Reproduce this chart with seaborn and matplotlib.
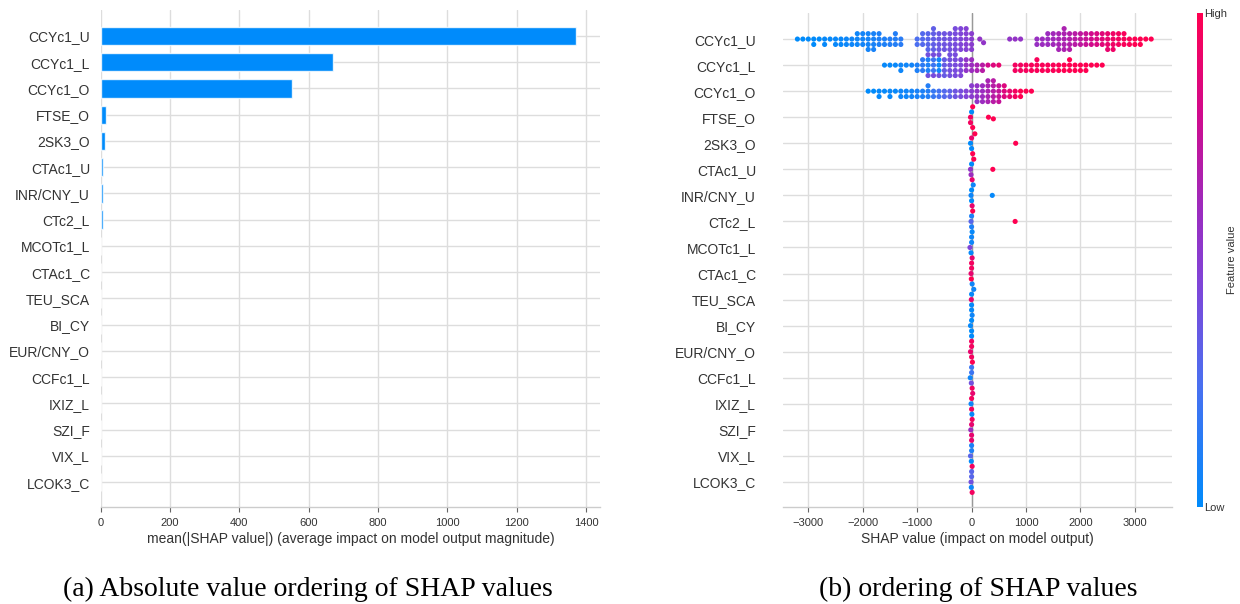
import numpy as np
import pandas as pd
import matplotlib
matplotlib.use("Agg")
import matplotlib.pyplot as plt
import seaborn as sns
from matplotlib.colors import LinearSegmentedColormap, Normalize
from matplotlib.cm import ScalarMappable

sns.set_theme(style="whitegrid")
plt.rcParams["font.family"] = ["Liberation Sans", "DejaVu Sans"]

# ---------------- data ----------------
features = ["CCYc1_U", "CCYc1_L", "CCYc1_O", "FTSE_O", "2SK3_O", "CTAc1_U",
            "INR/CNY_U", "CTc2_L", "MCOTc1_L", "CTAc1_C", "TEU_SCA", "BI_CY",
            "EUR/CNY_O", "CCFc1_L", "IXIZ_L", "SZI_F", "VIX_L", "LCOK3_C"]
mean_abs_shap = [1370, 671, 551, 16, 12, 7, 7, 6, 1.5, 1.2, 1.0, 0.9,
                 0.8, 0.7, 0.6, 0.5, 0.4, 0.3]
bar_ticks = [0, 200, 400, 600, 800, 1000, 1200, 1400]
swarm_ticks = [-3000, -2000, -1000, 0, 1000, 2000, 3000]

# beeswarm groups: (SHAP value, number of dots, feature value 0..1)
ccyc1_u = [(-3200, 1, 0.0), (-3100, 1, 0.0), (-3000, 1, 0.0), (-2900, 2, 0.0), (-2800, 1, 0.0),
           (-2700, 2, 0.02), (-2600, 1, 0.02),
           (-2500, 2, 0.03), (-2400, 2, 0.03), (-2300, 2, 0.04), (-2200, 2, 0.05), (-2100, 3, 0.05),
           (-2000, 3, 0.06), (-1900, 4, 0.07), (-1800, 4, 0.08), (-1700, 3, 0.1), (-1600, 2, 0.1),
           (-1500, 2, 0.12), (-1400, 3, 0.12), (-1300, 2, 0.14),
           (-1000, 2, 0.25), (-900, 3, 0.28), (-800, 4, 0.3), (-700, 5, 0.33), (-600, 4, 0.36),
           (-500, 4, 0.38), (-400, 4, 0.4), (-300, 5, 0.42), (-200, 5, 0.45), (-100, 5, 0.48),
           (0, 4, 0.5), (150, 1, 0.55), (220, 1, 0.55),
           (700, 1, 0.55), (800, 1, 0.56), (900, 1, 0.56),
           (1200, 2, 0.58), (1300, 2, 0.6), (1400, 3, 0.6), (1500, 3, 0.62), (1600, 4, 0.64),
           (1700, 5, 0.66), (1800, 4, 0.68), (1900, 3, 0.7), (2000, 3, 0.73), (2100, 3, 0.76),
           (2200, 3, 0.8), (2300, 3, 0.83), (2400, 3, 0.86), (2500, 4, 0.9), (2600, 4, 0.93),
           (2700, 3, 0.95), (2800, 3, 0.97), (2900, 2, 0.98), (3000, 2, 1.0), (3100, 2, 1.0),
           (3200, 1, 1.0), (3300, 1, 1.0)]
ccyc1_l = [(-1600, 1, 0.02), (-1500, 1, 0.02), (-1400, 1, 0.03), (-1300, 2, 0.05), (-1200, 1, 0.05),
           (-1100, 1, 0.06), (-1000, 2, 0.1), (-900, 3, 0.15), (-800, 3, 0.1), (-800, 2, 0.4),
           (-700, 3, 0.2), (-700, 2, 0.42), (-600, 3, 0.05), (-600, 2, 0.4), (-500, 4, 0.35),
           (-400, 5, 0.4), (-300, 5, 0.42), (-200, 4, 0.45), (-100, 3, 0.55), (0, 3, 0.6),
           (100, 2, 0.65), (200, 2, 0.7), (300, 1, 0.8), (400, 1, 0.85), (500, 1, 0.9),
           (800, 2, 0.95), (900, 2, 0.95), (1000, 2, 0.96), (1100, 2, 0.97), (1200, 3, 0.97),
           (1300, 2, 0.98), (1400, 2, 0.98), (1500, 2, 0.98), (1600, 2, 0.99), (1700, 2, 1.0),
           (1800, 3, 1.0), (1900, 2, 1.0), (2000, 2, 1.0), (2100, 2, 1.0), (2200, 1, 1.0),
           (2300, 1, 1.0), (2400, 1, 1.0)]
ccyc1_o = [(-1900, 1, 0.0), (-1800, 1, 0.0), (-1700, 2, 0.02), (-1600, 1, 0.02), (-1500, 2, 0.03),
           (-1400, 1, 0.03), (-1300, 2, 0.05), (-1200, 2, 0.05), (-1100, 2, 0.06), (-1000, 2, 0.08),
           (-900, 2, 0.1), (-800, 3, 0.12), (-700, 2, 0.18), (-600, 2, 0.22), (-500, 2, 0.28),
           (-400, 2, 0.32), (-300, 2, 0.38), (-200, 2, 0.42), (-100, 2, 0.46), (0, 3, 0.5),
           (100, 4, 0.55), (200, 4, 0.6), (300, 5, 0.65), (400, 5, 0.7), (500, 4, 0.75),
           (600, 3, 0.85), (700, 2, 0.9), (800, 2, 0.95), (900, 2, 1.0), (1000, 1, 1.0), (1100, 1, 1.0)]
ftse_o = [(0, 1, 0.0), (-20, 2, 0.95), (20, 2, 1.0), (310, 1, 1.0), (400, 1, 1.0)]
sk3_o = [(-20, 1, 0.0), (0, 1, 0.02), (20, 1, 1.0), (60, 1, 1.0), (0, 1, 0.9), (810, 1, 1.0)]
ctac1_u = [(-10, 1, 0.6), (0, 1, 0.0), (10, 1, 0.9), (40, 1, 1.0), (-20, 1, 0.55), (390, 1, 1.0)]
inr_cny_u = [(0, 2, 0.0), (-10, 1, 0.05), (30, 1, 0.05), (10, 1, 0.9), (380, 1, 0.02)]
ctc2_l = [(0, 2, 0.1), (-10, 1, 0.3), (20, 1, 1.0), (10, 1, 0.02), (800, 1, 1.0)]
mcotc1_l = [(0, 2, 0.05), (-30, 1, 0.45), (10, 1, 0.9), (-10, 1, 0.02)]
ctac1_c = [(0, 2, 0.95), (-10, 1, 0.9), (10, 1, 0.05), (-5, 1, 1.0)]
teu_sca = [(0, 3, 0.02), (40, 1, 0.05), (-5, 1, 0.9)]
bi_cy = [(0, 3, 0.0), (-20, 1, 0.02), (10, 1, 0.05)]
eur_cny_o = [(0, 3, 0.95), (-20, 1, 0.9), (15, 1, 1.0)]
ccfc1_l = [(0, 2, 0.2), (-25, 1, 0.05), (10, 1, 0.95), (-5, 1, 0.4)]
ixiz_l = [(0, 2, 0.95), (20, 1, 0.9), (-10, 1, 0.05), (5, 1, 0.02)]
szi_f = [(0, 3, 0.9), (-15, 1, 0.6), (10, 1, 0.95)]
vix_l = [(0, 2, 0.1), (-20, 1, 0.3), (10, 1, 0.95), (-5, 1, 0.02)]
lcok3_c = [(0, 2, 0.3), (-10, 1, 0.4), (10, 1, 0.95), (-5, 1, 0.05)]

swarm_groups = [ccyc1_u, ccyc1_l, ccyc1_o, ftse_o, sk3_o, ctac1_u, inr_cny_u, ctc2_l,
                mcotc1_l, ctac1_c, teu_sca, bi_cy, eur_cny_o, ccfc1_l, ixiz_l, szi_f,
                vix_l, lcok3_c]

rows = []
for feat, groups in zip(features, swarm_groups):
    for val, cnt, fv in groups:
        for _ in range(cnt):
            rows.append((feat, val, fv))
swarm_df = pd.DataFrame(rows, columns=["feature", "shap", "fval"])
bar_df = pd.DataFrame({"feature": features, "value": mean_abs_shap})

# shap-like red/blue colormap
cmap = LinearSegmentedColormap.from_list(
    "shap_rb", [(0.0, "#008bfb"), (0.25, "#4b6ff0"), (0.45, "#7f45d8"),
                (0.6, "#9b2cbf"), (0.8, "#d10a8c"), (1.0, "#ff0051")])

W, H = 1240, 604
fig = plt.figure(figsize=(W / 100, H / 100), dpi=100)
ax1 = fig.add_axes([100.7 / W, 97 / H, (600 - 100.7) / W, (507 - 10) / H])
ax2 = fig.add_axes([782.5 / W, 97 / H, (1172 - 782.5) / W, (507 - 13) / H])
cax = fig.add_axes([1197 / W, 97 / H, 6 / W, 494 / H])

text_c = "#333333"

# (a) bar chart
sns.barplot(data=bar_df, x="value", y="feature", orient="h", color="#008bfb",
            saturation=1, width=0.7, edgecolor=(1, 1, 1, 0.8), linewidth=1, ax=ax1)
ax1.set_xlim(0, 1440)
ax1.set_ylim(17.95, -0.99)
ax1.set_xticks(bar_ticks)
ax1.set_xlabel("mean(|SHAP value|) (average impact on model output magnitude)",
               fontsize=10, color=text_c, labelpad=3)
ax1.set_ylabel("")

# (b) beeswarm
ax2.axvline(0, color="#999999", lw=1, zorder=1)
sns.swarmplot(data=swarm_df, x="shap", y="feature", order=features, hue="fval",
              palette=cmap, hue_norm=(0, 1), orient="h", size=3.7, linewidth=0,
              legend=False, ax=ax2, zorder=3)
ax2.set_xlim(-3474, 3682)
ax2.set_ylim(17.96, -1.0)
ax2.set_xticks(swarm_ticks)
ax2.set_xlabel("SHAP value (impact on model output)", fontsize=10, color=text_c, labelpad=3)
ax2.set_ylabel("")

for ax, ypad in ((ax1, 7.7), (ax2, 19)):
    ax.set_axisbelow(True)
    ax.grid(True, axis="both", color="#dddddd", lw=1)
    for s in ("left", "top", "right"):
        ax.spines[s].set_visible(False)
    ax.spines["bottom"].set_color("#cccccc")
    ax.spines["bottom"].set_linewidth(1)
    ax.tick_params(axis="x", bottom=True, length=3.6, width=0.8, color="#666666",
                   labelsize=8, labelcolor=text_c, pad=4)
    ax.tick_params(axis="y", left=False, length=0, labelsize=10, labelcolor=text_c, pad=ypad)

# colour bar
cb = fig.colorbar(ScalarMappable(norm=Normalize(0, 1), cmap=cmap), cax=cax, ticks=[0, 1])
cb.set_ticklabels(["Low", "High"])
cb.outline.set_visible(False)
cax.tick_params(length=0, labelsize=8, pad=1, labelcolor=text_c)
cb.set_label("Feature value", size=8, labelpad=0, color=text_c)

# captions
fig.text(308 / W, 1 - 589 / H, "(a) Absolute value ordering of SHAP values",
         ha="center", va="center", family="Liberation Serif", fontsize=20, color="black")
fig.text(978 / W, 1 - 589 / H, "(b) ordering of SHAP values",
         ha="center", va="center", family="Liberation Serif", fontsize=20, color="black")

fig.savefig("out.png", dpi=100)
